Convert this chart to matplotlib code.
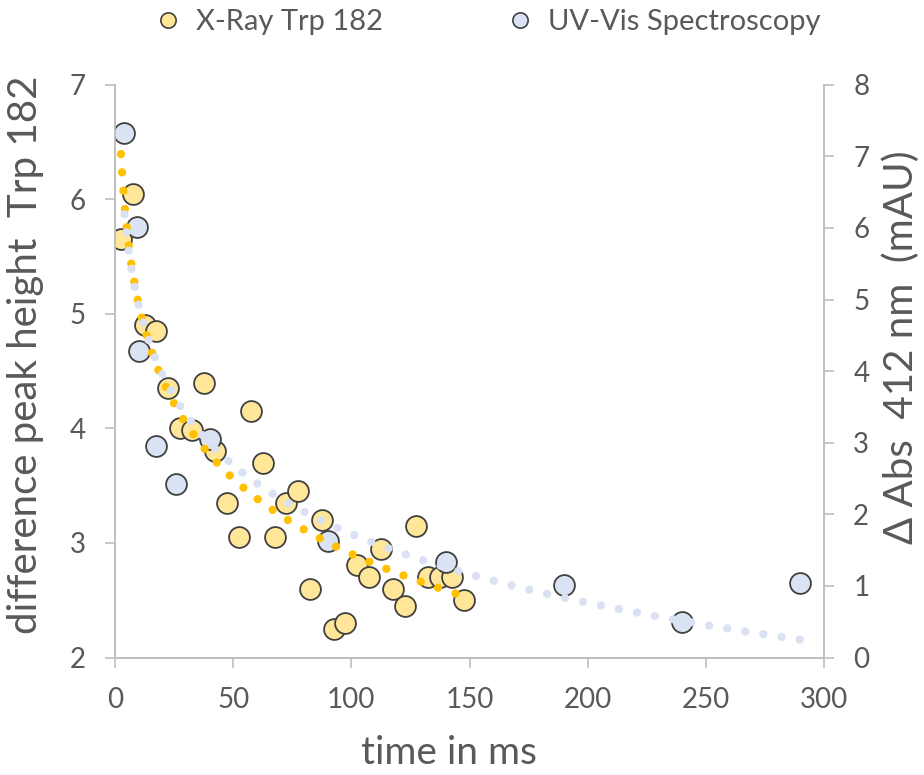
import numpy as np
import matplotlib
matplotlib.use("Agg")
import matplotlib.pyplot as plt
from matplotlib.lines import Line2D

plt.rcParams['font.family'] = ['Lato', 'DejaVu Sans']

# X-ray difference peak height of Trp 182 (left axis)
xray_time = [2.5, 7.5, 12.5, 17.5, 22.5, 27.5, 32.5, 37.5, 42.5, 47.5,
             52.5, 57.5, 62.5, 67.5, 72.5, 77.5, 82.5, 87.5, 92.5, 97.5,
             102.5, 107.5, 112.5, 117.5, 122.5, 127.5, 132.5, 137.5, 142.5, 147.5]
xray_peak = [5.65, 6.05, 4.90, 4.85, 4.35, 4.00, 3.99, 4.40, 3.80, 3.35,
             3.05, 4.15, 3.70, 3.05, 3.35, 3.45, 2.60, 3.20, 2.25, 2.30,
             2.81, 2.70, 2.95, 2.60, 2.45, 3.15, 2.70, 2.70, 2.70, 2.50]

# UV-Vis delta absorbance at 412 nm (right axis)
uv_time = [4, 9.5, 10, 17.5, 26, 40, 90, 140, 190, 240, 290]
uv_abs = [7.32, 6.02, 4.28, 2.96, 2.43, 3.05, 1.63, 1.34, 1.01, 0.49, 1.04]

grey = "#595959"
yellow_fill = "#FFE699"
blue_fill = "#DAE3F3"
edge = "#404040"


def log_trend(x, y):
    # logarithmic trendline, same kind as the spreadsheet one
    x = np.asarray(x, float)
    b, a = np.polyfit(np.log(x), np.asarray(y, float), 1)
    xs = np.linspace(x.min(), x.max(), 400)
    return xs, a + b * np.log(xs)


fig = plt.figure(figsize=(9.24, 7.75), dpi=100)
ax = fig.add_axes([0.1245, 0.1516, 0.7673, 0.739])
ax2 = ax.twinx()

ax.plot(xray_time, xray_peak, 'o', ms=15, mfc=yellow_fill, mec=edge, mew=1.3, zorder=2)
ax2.plot(uv_time, uv_abs, 'o', ms=15, mfc=blue_fill, mec=edge, mew=1.3, zorder=2)

tx, ty = log_trend(xray_time, xray_peak)
ux, uy = log_trend(uv_time, uv_abs)
dots = (0, (0.001, 2.2))
ax2.plot(tx, ty, color="#FFC000", lw=6, linestyle=dots,
         dash_capstyle='round', transform=ax.transData, zorder=3)
ax2.plot(ux, uy, color="#D9E1F2", lw=6, linestyle=dots,
         dash_capstyle='round', zorder=4)

ax.set_xlim(0, 300)
ax.set_ylim(2, 7)
ax2.set_ylim(0, 8)
ax.set_xticks([0, 50, 100, 150, 200, 250, 300])
ax.set_yticks([2, 3, 4, 5, 6, 7])
ax2.set_yticks(range(0, 9))

for a in (ax, ax2):
    for s in a.spines.values():
        s.set_color("#BFBFBF")
        s.set_linewidth(1.2)
    a.spines['top'].set_visible(False)
    a.tick_params(colors="#BFBFBF", labelcolor=grey, labelsize=20,
                  length=7, width=1.2, direction='out', pad=14)

ax.set_xlabel("time in ms", fontsize=28, color=grey)
ax.xaxis.set_label_coords(0.471, -0.135)
ax.set_ylabel("difference peak height  Trp 182", fontsize=29, color=grey)
ax.yaxis.set_label_coords(-0.1, 0.528)
ax2.set_ylabel("Δ Abs  412 nm  (mAU)", fontsize=29, color=grey)
ax2.yaxis.set_label_coords(1.083, 0.541)

handles = [
    Line2D([], [], ls='none', marker='o', ms=11, mfc=yellow_fill, mec=edge, mew=1.2),
    Line2D([], [], ls='none', marker='o', ms=11, mfc=blue_fill, mec=edge, mew=1.2),
]
fig.legend(handles, ["X-Ray Trp 182", "UV-Vis Spectroscopy"], loc='upper center',
           bbox_to_anchor=(0.527, 1.022), ncol=2, frameon=False, fontsize=21,
           labelcolor=grey, handlelength=1.0, handletextpad=0.45, columnspacing=4.2)

fig.savefig("out.png", dpi=100)
